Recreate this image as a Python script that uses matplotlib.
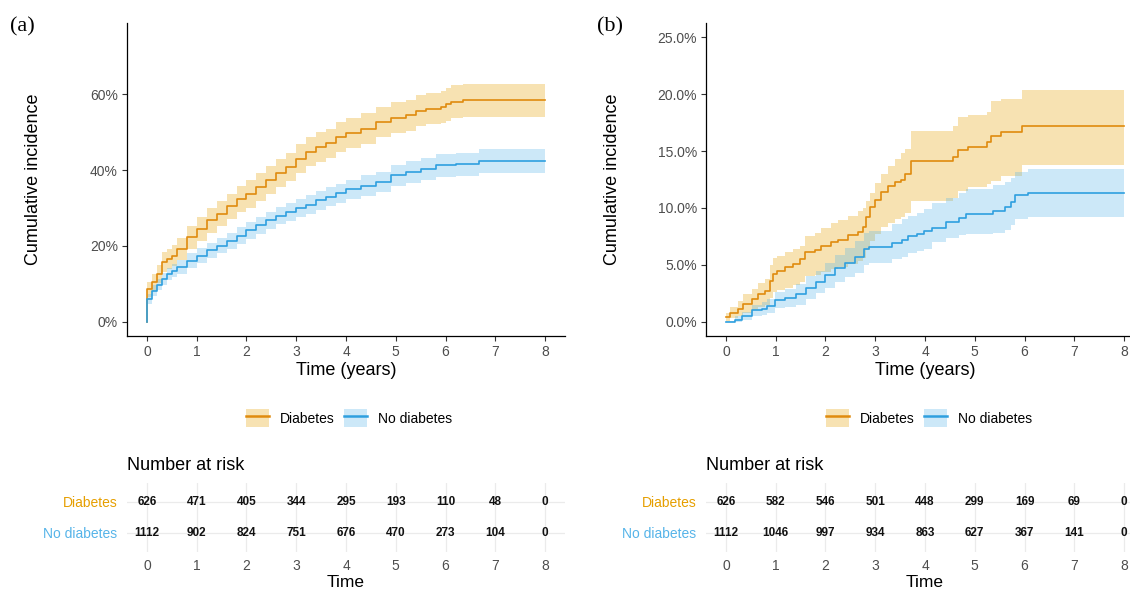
import matplotlib.pyplot as plt
from matplotlib.lines import Line2D
from matplotlib.patches import Patch
from matplotlib.legend_handler import HandlerTuple

plt.rcParams['font.family'] = ['Liberation Sans', 'DejaVu Sans']

GROUPS = ['Diabetes', 'No diabetes']
LINE_COLORS = ['#E08B0E', '#2E9FDF']
FILL_COLORS = ['#E69F00', '#56B4E9']
TABLE_TIMES = [0, 1, 2, 3, 4, 5, 6, 7, 8]

# panel (a): cumulative incidence, step points
a_dm_time = [0, 0, 0.1, 0.2, 0.3, 0.4, 0.5, 0.6, 0.8, 1.0, 1.2, 1.4, 1.6, 1.8, 2.0, 2.2, 2.4, 2.6,
             2.8, 3.0, 3.2, 3.4, 3.6, 3.8, 4.0, 4.3, 4.6, 4.9, 5.2, 5.4, 5.6, 5.9, 6.0, 6.1, 6.35, 8.0]
a_dm_est = [0, 0.086, 0.104, 0.126, 0.157, 0.166, 0.174, 0.192, 0.223, 0.245, 0.267, 0.285, 0.304,
            0.324, 0.337, 0.355, 0.373, 0.392, 0.408, 0.430, 0.448, 0.461, 0.470, 0.487, 0.498, 0.509,
            0.527, 0.538, 0.544, 0.556, 0.562, 0.566, 0.573, 0.580, 0.584, 0.584]
a_dm_low = [0, 0.066, 0.082, 0.102, 0.131, 0.139, 0.146, 0.163, 0.193, 0.214, 0.235, 0.252, 0.270,
            0.289, 0.301, 0.319, 0.336, 0.355, 0.370, 0.392, 0.410, 0.422, 0.431, 0.448, 0.459, 0.469,
            0.487, 0.498, 0.504, 0.515, 0.521, 0.524, 0.530, 0.537, 0.541, 0.541]
a_dm_up = [0, 0.106, 0.126, 0.150, 0.183, 0.193, 0.202, 0.221, 0.253, 0.276, 0.299, 0.318, 0.338,
           0.359, 0.373, 0.391, 0.410, 0.429, 0.446, 0.468, 0.486, 0.500, 0.509, 0.526, 0.537, 0.549,
           0.567, 0.578, 0.584, 0.597, 0.603, 0.608, 0.616, 0.623, 0.627, 0.627]

a_nodm_time = [0, 0, 0.1, 0.2, 0.3, 0.4, 0.5, 0.6, 0.8, 1.0, 1.2, 1.4, 1.6, 1.8, 2.0, 2.2, 2.4, 2.6,
               2.8, 3.0, 3.2, 3.4, 3.6, 3.8, 4.0, 4.3, 4.6, 4.9, 5.2, 5.5, 5.8, 6.2, 6.68, 8.0]
a_nodm_est = [0, 0.060, 0.082, 0.098, 0.113, 0.126, 0.135, 0.145, 0.161, 0.174, 0.188, 0.201, 0.214,
              0.227, 0.241, 0.254, 0.267, 0.280, 0.289, 0.300, 0.309, 0.320, 0.329, 0.339, 0.349,
              0.359, 0.368, 0.386, 0.395, 0.403, 0.412, 0.415, 0.424, 0.424]
a_nodm_low = [0, 0.048, 0.068, 0.083, 0.097, 0.109, 0.118, 0.127, 0.142, 0.154, 0.168, 0.180, 0.193,
              0.205, 0.219, 0.232, 0.244, 0.257, 0.266, 0.276, 0.285, 0.295, 0.304, 0.314, 0.323,
              0.332, 0.341, 0.358, 0.367, 0.374, 0.382, 0.385, 0.392, 0.392]
a_nodm_up = [0, 0.072, 0.096, 0.113, 0.129, 0.143, 0.152, 0.163, 0.180, 0.194, 0.208, 0.222, 0.235,
             0.249, 0.263, 0.276, 0.290, 0.303, 0.312, 0.324, 0.333, 0.345, 0.354, 0.364, 0.375,
             0.386, 0.395, 0.414, 0.423, 0.432, 0.442, 0.445, 0.456, 0.456]

# panel (b)
b_dm_time = [0, 0.09, 0.25, 0.35, 0.52, 0.65, 0.79, 0.89, 0.95, 1.02, 1.19, 1.35, 1.49, 1.59, 1.79,
             1.92, 2.12, 2.25, 2.45, 2.65, 2.75, 2.82, 2.89, 2.99, 3.12, 3.25, 3.39, 3.52, 3.59, 3.72,
             4.56, 4.66, 4.86, 5.24, 5.33, 5.53, 5.95, 8.0]
b_dm_est = [0.004, 0.008, 0.011, 0.016, 0.020, 0.024, 0.027, 0.036, 0.042, 0.045, 0.048, 0.051,
            0.055, 0.061, 0.063, 0.067, 0.070, 0.072, 0.076, 0.079, 0.083, 0.092, 0.101, 0.107,
            0.114, 0.119, 0.123, 0.125, 0.130, 0.141, 0.145, 0.151, 0.154, 0.158, 0.163, 0.167,
            0.172, 0.172]
b_dm_low = [0.001, 0.003, 0.005, 0.008, 0.010, 0.013, 0.015, 0.021, 0.026, 0.028, 0.030, 0.032,
            0.035, 0.040, 0.041, 0.044, 0.046, 0.048, 0.051, 0.053, 0.056, 0.063, 0.071, 0.077,
            0.083, 0.087, 0.090, 0.092, 0.096, 0.106, 0.109, 0.115, 0.118, 0.121, 0.124, 0.128,
            0.138, 0.138]
b_dm_up = [0.008, 0.013, 0.018, 0.024, 0.029, 0.034, 0.038, 0.050, 0.056, 0.058, 0.061, 0.064,
           0.067, 0.075, 0.078, 0.082, 0.087, 0.089, 0.093, 0.097, 0.100, 0.106, 0.113, 0.122,
           0.130, 0.137, 0.143, 0.148, 0.152, 0.168, 0.172, 0.180, 0.182, 0.184, 0.194, 0.196,
           0.204, 0.204]

b_nodm_time = [0, 0.19, 0.32, 0.52, 0.72, 0.82, 0.99, 1.19, 1.4, 1.6, 1.8, 2.0, 2.2, 2.4, 2.6, 2.77,
               2.87, 3.33, 3.53, 3.66, 3.83, 3.97, 4.15, 4.42, 4.69, 4.82, 5.36, 5.6, 5.73, 5.8,
               6.07, 8.0]
b_nodm_est = [0.000, 0.002, 0.005, 0.010, 0.011, 0.014, 0.019, 0.021, 0.024, 0.030, 0.035, 0.041,
              0.047, 0.052, 0.057, 0.064, 0.066, 0.069, 0.072, 0.075, 0.077, 0.080, 0.082, 0.088,
              0.091, 0.095, 0.097, 0.101, 0.105, 0.111, 0.113, 0.113]
b_nodm_low = [0.000, 0.000, 0.002, 0.005, 0.006, 0.008, 0.012, 0.013, 0.015, 0.020, 0.025, 0.030,
              0.035, 0.039, 0.043, 0.050, 0.052, 0.055, 0.057, 0.060, 0.062, 0.064, 0.070, 0.074,
              0.076, 0.077, 0.078, 0.081, 0.085, 0.090, 0.092, 0.092]
b_nodm_up = [0.001, 0.005, 0.009, 0.015, 0.017, 0.020, 0.026, 0.029, 0.033, 0.040, 0.045, 0.052,
             0.059, 0.065, 0.071, 0.078, 0.080, 0.086, 0.090, 0.093, 0.096, 0.099, 0.104, 0.109,
             0.113, 0.117, 0.120, 0.123, 0.126, 0.132, 0.134, 0.134]

# number at risk
risk_a_dm = [626, 471, 405, 344, 295, 193, 110, 48, 0]
risk_a_nodm = [1112, 902, 824, 751, 676, 470, 273, 104, 0]
risk_b_dm = [626, 582, 546, 501, 448, 299, 169, 69, 0]
risk_b_nodm = [1112, 1046, 997, 934, 863, 627, 367, 141, 0]

a_yticks = [0, 0.2, 0.4, 0.6]
a_ylabels = ['0%', '20%', '40%', '60%']
b_yticks = [0, 0.05, 0.10, 0.15, 0.20, 0.25]
b_ylabels = ['0.0%', '5.0%', '10.0%', '15.0%', '20.0%', '25.0%']

AXIS_TEXT = '#4D4D4D'
XLIM = (-0.4, 8.4)


def draw_curves(ax, series, ylim, yticks, ylabels):
    """ step curves with confidence ribbons, ggplot classic look """
    for (t, est, low, up), fc in zip(series, FILL_COLORS):
        ax.fill_between(t, low, up, step='post', color=fc, alpha=0.3, linewidth=0)
    for (t, est, low, up), lc in zip(series, LINE_COLORS):
        ax.step(t, est, where='post', color=lc, linewidth=1.2)
    ax.set_xlim(XLIM)
    ax.set_ylim(ylim)
    ax.set_xticks(TABLE_TIMES)
    ax.set_yticks(yticks)
    ax.set_yticklabels(ylabels)
    for s in ['top', 'right']:
        ax.spines[s].set_visible(False)
    for s in ['left', 'bottom']:
        ax.spines[s].set_color('black')
        ax.spines[s].set_linewidth(0.9)
    ax.tick_params(length=3.5, width=0.8, color='#333333', labelcolor=AXIS_TEXT, labelsize=10, pad=3)
    ax.set_xlabel('Time (years)', fontsize=13)
    ax.xaxis.label.set_verticalalignment('center')
    ax.xaxis.set_label_coords(0.5, -0.109)
    ax.set_ylabel('Cumulative incidence', fontsize=13)
    ax.yaxis.label.set_verticalalignment('center')
    ax.yaxis.set_label_coords(-0.2146, 0.5)


def draw_table(ax, rows):
    """ number-at-risk table under a panel """
    for i, vals in enumerate(rows):
        y = 2 - i
        for x, n in zip(TABLE_TIMES, vals):
            ax.text(x, y, str(n), ha='center', va='center', fontsize=8.5, color='#111111',
                    fontweight='bold')
    ax.set_xlim(XLIM)
    ax.set_ylim(0.4, 2.6)
    ax.set_xticks(TABLE_TIMES)
    ax.set_yticks([2, 1])
    ax.set_yticklabels(GROUPS, fontsize=10)
    for lab, c in zip(ax.get_yticklabels(), FILL_COLORS):
        lab.set_color(c)
    ax.grid(True, color='#EBEBEB', linewidth=0.9)
    ax.set_axisbelow(True)
    for s in ax.spines.values():
        s.set_visible(False)
    ax.tick_params(axis='y', length=0, pad=7)
    ax.tick_params(axis='x', length=0, pad=5, labelcolor=AXIS_TEXT, labelsize=10)
    ax.set_xlabel('Time', fontsize=12.5)
    ax.xaxis.label.set_verticalalignment('center')
    ax.xaxis.set_label_coords(0.5, -0.45)
    ax.text(0, 1.255, 'Number at risk', transform=ax.transAxes, ha='left', va='center', fontsize=13)


fig = plt.figure(figsize=(11.3, 5.9), dpi=100)

panels = [
    dict(left=0.1124, tag='(a)', tag_x=10 / 1130, legend_x=349 / 1130,
         series=[(a_dm_time, a_dm_est, a_dm_low, a_dm_up),
                 (a_nodm_time, a_nodm_est, a_nodm_low, a_nodm_up)],
         ylim=(-0.0375, 0.7875), yticks=a_yticks, ylabels=a_ylabels,
         risk=[risk_a_dm, risk_a_nodm]),
    dict(left=0.6248, tag='(b)', tag_x=597 / 1130, legend_x=929 / 1130,
         series=[(b_dm_time, b_dm_est, b_dm_low, b_dm_up),
                 (b_nodm_time, b_nodm_est, b_nodm_low, b_nodm_up)],
         ylim=(-0.0125, 0.2625), yticks=b_yticks, ylabels=b_ylabels,
         risk=[risk_b_dm, risk_b_nodm]),
]

for p in panels:
    ax = fig.add_axes([p['left'], 0.4305, 0.3876, 0.5305])
    draw_curves(ax, p['series'], p['ylim'], p['yticks'], p['ylabels'])

    handles = [(Patch(facecolor=fc, alpha=0.3, linewidth=0), Line2D([], [], color=lc, linewidth=1.8))
               for fc, lc in zip(FILL_COLORS, LINE_COLORS)]
    fig.legend(handles, GROUPS, loc='center', bbox_to_anchor=(p['legend_x'], 1 - 418 / 590),
               ncol=2, frameon=False, fontsize=10, handlelength=1.65, handleheight=1.65,
               handletextpad=0.8, columnspacing=0.7,
               handler_map={tuple: HandlerTuple(ndivide=1, pad=0)})

    tab = fig.add_axes([p['left'], 0.0651, 0.3876, 0.1156])
    draw_table(tab, p['risk'])

    fig.text(p['tag_x'], 1 - 27 / 590, p['tag'], ha='left', va='center', fontsize=16,
             family='Liberation Serif')

fig.savefig('out.png', dpi=100)
